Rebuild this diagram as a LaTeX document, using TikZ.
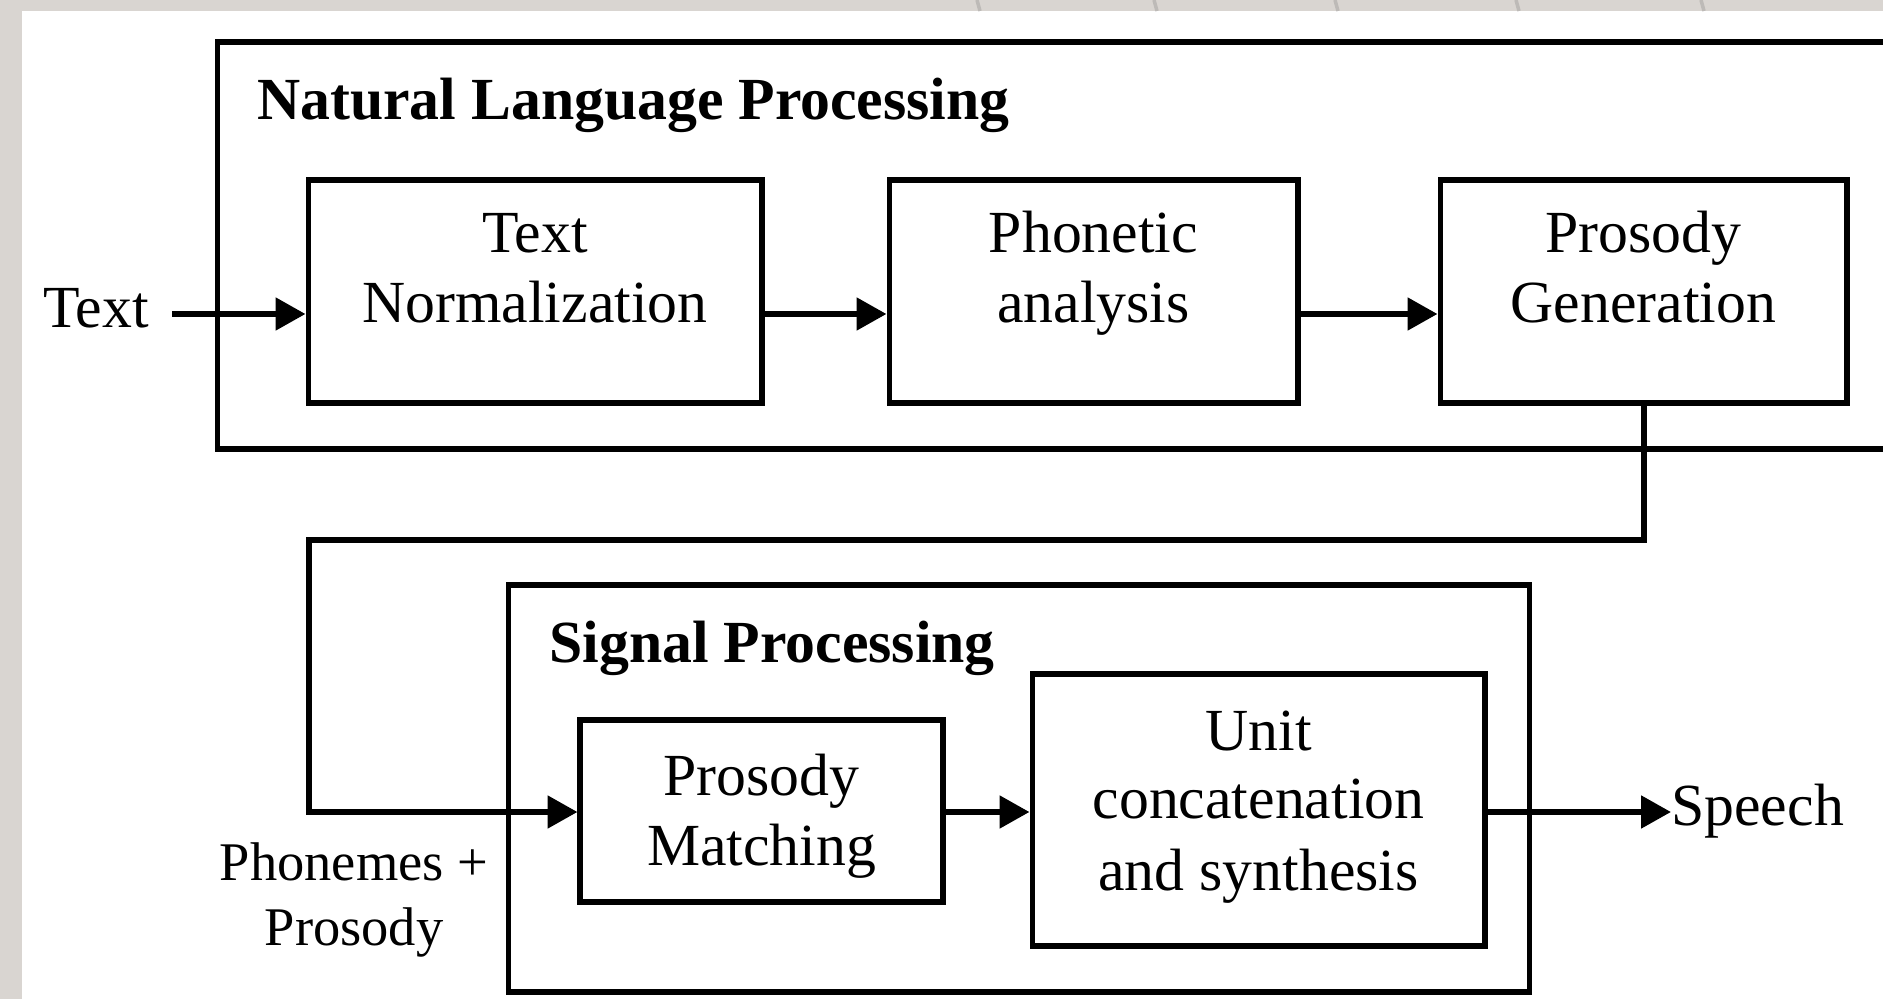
\documentclass[tikz,border=0pt]{standalone}
\usepackage{fontspec}
\setmainfont{Liberation Serif}
\usetikzlibrary{arrows.meta}
\definecolor{bggray}{HTML}{D9D5D1}
\definecolor{streak}{HTML}{BDBAB7}
\tikzset{
  box/.style={draw=black, line width=2.9pt, fill=white, inner sep=0pt},
  frame/.style={draw=black, line width=2.9pt, inner sep=0pt},
  lbl/.style={inner sep=0pt, font=\fontsize{34}{40}\selectfont},
  sidelbl/.style={inner sep=0pt, font=\fontsize{31}{37}\selectfont},
  ttl/.style={inner sep=0pt, font=\fontsize{34}{40}\selectfont\bfseries},
  conn/.style={line width=3.4pt, -{Triangle[length=17pt,width=18pt]}},
}
\begin{document}
\begin{tikzpicture}[x=0.02cm, y=-0.02cm]
\useasboundingbox (0,0) rectangle (1883,999);
\clip (0,0) rectangle (1883,999);
% background
\fill[bggray] (0,0) rectangle (1883,999);
\fill[white] (22,11) rectangle (1883,999);
\foreach \sx in {979,1156,1337,1518,1703}
  \draw[streak, line width=2pt] (\sx-2,0) -- (\sx+1,11);

% frames
\node[frame, minimum width=33.66cm, minimum height=8.14cm] (nlp) at (1058.5,245.5) {};
\node[frame, minimum width=20.44cm, minimum height=8.14cm] (sp) at (1019,788.5) {};

% titles
\node[ttl, anchor=base west] (nlpt) at (257,120) {Natural Language Processing};
\node[ttl, anchor=base west] (spt) at (549,663) {Signal Processing};

% boxes
\node[box, minimum width=9.08cm, minimum height=4.46cm] (tn) at (535,291.5) {};
\node[box, minimum width=8.18cm, minimum height=4.46cm] (pa) at (1093.5,291.5) {};
\node[box, minimum width=8.14cm, minimum height=4.46cm] (pg) at (1643.5,291.5) {};
\node[box, minimum width=7.26cm, minimum height=3.64cm] (pm) at (761.5,811) {};
\node[box, minimum width=9.06cm, minimum height=5.44cm] (un) at (1258.5,810) {};

% box texts
\node[lbl, anchor=base] (tn1) at (535,253) {Text};
\node[lbl, anchor=base] (tn2) at (535,323) {Normalization};
\node[lbl, anchor=base] (pa1) at (1093.5,253) {Phonetic};
\node[lbl, anchor=base] (pa2) at (1093.5,323) {analysis};
\node[lbl, anchor=base] (pg1) at (1643.5,253) {Prosody};
\node[lbl, anchor=base] (pg2) at (1643.5,323) {Generation};
\node[lbl, anchor=base] (pm1) at (761.5,795) {Prosody};
\node[lbl, anchor=base] (pm2) at (761.5,865) {Matching};
\node[lbl, anchor=base] (un1) at (1258.5,750) {Unit};
\node[lbl, anchor=base] (un2) at (1258.5,818) {concatenation};
\node[lbl, anchor=base] (un3) at (1258.5,890) {and synthesis};

% outside labels
\node[lbl, anchor=base west] (txt) at (43,328) {Text};
\node[lbl, anchor=base west] (spc) at (1671,825) {Speech};
\node[sidelbl, anchor=base] (ph1) at (354,880) {Phonemes +};
\node[sidelbl, anchor=base] (ph2) at (354,945) {Prosody};

% rows and bends
\coordinate (rowA) at (0,314);
\coordinate (rowB) at (0,812);
\coordinate (tin) at (172,314);
\coordinate (b1) at (1643.5,540);
\coordinate (b2) at (309,540);

% connectors
\draw[conn] (tin) -- (tn.west |- rowA);
\draw[conn] (tn.east |- rowA) -- (pa.west |- rowA);
\draw[conn] (pa.east |- rowA) -- (pg.west |- rowA);
\draw[conn] (pg.south) -- (b1) -- (b2) |- (pm.west |- rowB);
\draw[conn] (pm.east |- rowB) -- (un.west |- rowB);
\draw[conn] (un.east |- rowB) -- (spc.west |- rowB);
\end{tikzpicture}
\end{document}
